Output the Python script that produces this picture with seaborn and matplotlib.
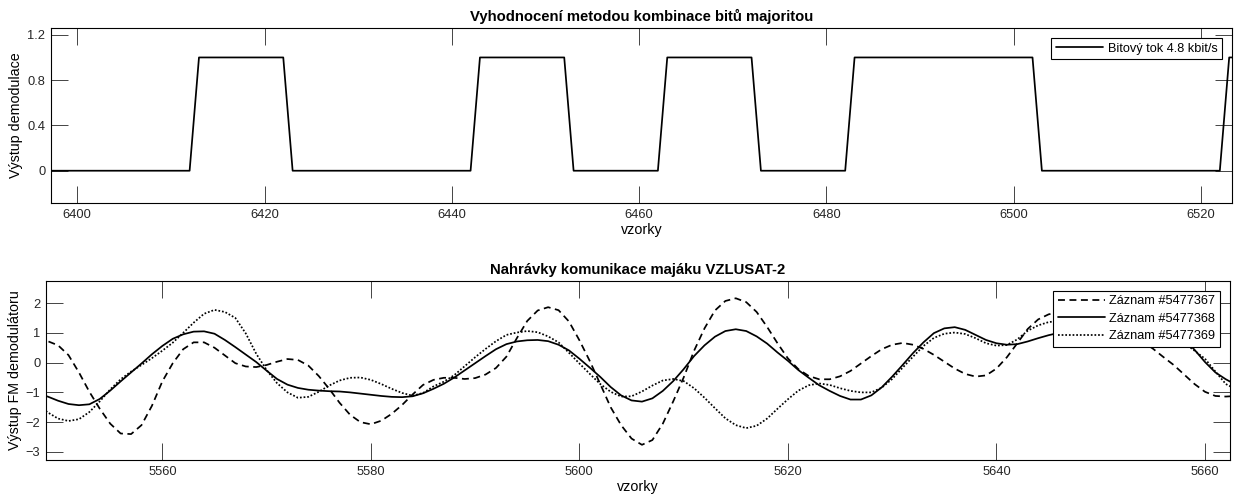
import numpy as np
import pandas as pd
import matplotlib
matplotlib.use("Agg")
import matplotlib.pyplot as plt
import seaborn as sns

# ---------------- data ----------------
# top panel: vertices of the demodulated bit stream
bit_x = [6397, 6412, 6413, 6422, 6423, 6442, 6443, 6452, 6453, 6462,
         6463, 6472, 6473, 6482, 6483, 6502, 6503, 6522, 6523, 6524]
bit_y = [0, 0, 1, 1, 0, 0, 1, 1, 0, 0,
         1, 1, 0, 0, 1, 1, 0, 0, 1, 1]
bit_label = "Bitový tok 4.8 kbit/s"

# bottom panel: FM demodulator output, samples 5548..5663
sample_start = 5548
rec_labels = ["Záznam #5477367", "Záznam #5477368", "Záznam #5477369"]
rec_367 = [0.78, 0.72, 0.58, 0.25, -0.33, -0.98, -1.55, -2.05, -2.38, -2.40,
           -2.10, -1.45, -0.63, -0.02, 0.45, 0.68, 0.68, 0.50, 0.24, -0.02,
           -0.13, -0.15, -0.08, 0.03, 0.12, 0.09, -0.10, -0.45, -0.88, -1.35,
           -1.75, -2.00, -2.07, -1.95, -1.72, -1.42, -1.07, -0.75, -0.58, -0.51,
           -0.51, -0.55, -0.52, -0.40, -0.18, 0.20, 0.82, 1.40, 1.75, 1.86,
           1.76, 1.38, 0.75, 0.05, -0.72, -1.50, -2.10, -2.55, -2.76, -2.60,
           -2.05, -1.30, -0.50, 0.40, 1.15, 1.75, 2.07, 2.16, 2.03, 1.70,
           1.20, 0.65, 0.14, -0.22, -0.45, -0.56, -0.56, -0.46, -0.28, -0.03,
           0.22, 0.45, 0.60, 0.66, 0.60, 0.46, 0.26, 0.03, -0.20, -0.38,
           -0.47, -0.43, -0.20, 0.18, 0.65, 1.13, 1.45, 1.62, 1.70, 1.70,
           1.65, 1.57, 1.45, 1.30, 1.12, 0.92, 0.70, 0.47, 0.19, -0.08,
           -0.40, -0.72, -0.98, -1.12, -1.14, -1.12]
rec_368 = [-1.05, -1.14, -1.28, -1.39, -1.43, -1.40, -1.22, -0.94, -0.63, -0.33,
           -0.03, 0.28, 0.56, 0.80, 0.95, 1.04, 1.05, 0.97, 0.76, 0.52,
           0.27, 0.02, -0.27, -0.55, -0.74, -0.85, -0.91, -0.94, -0.96, -0.97,
           -1.00, -1.04, -1.08, -1.12, -1.15, -1.16, -1.13, -1.03, -0.88, -0.71,
           -0.50, -0.26, -0.02, 0.22, 0.45, 0.62, 0.71, 0.75, 0.76, 0.72,
           0.60, 0.41, 0.13, -0.17, -0.48, -0.82, -1.10, -1.27, -1.31, -1.20,
           -0.95, -0.62, -0.22, 0.22, 0.58, 0.87, 1.06, 1.12, 1.06, 0.88,
           0.64, 0.34, 0.06, -0.25, -0.51, -0.76, -0.95, -1.12, -1.24, -1.24,
           -1.10, -0.83, -0.47, -0.08, 0.32, 0.68, 0.99, 1.15, 1.19, 1.10,
           0.93, 0.76, 0.65, 0.60, 0.62, 0.71, 0.82, 0.92, 1.00, 1.06,
           1.11, 1.16, 1.21, 1.26, 1.30, 1.32, 1.32, 1.28, 1.18, 1.02,
           0.80, 0.43, 0.02, -0.33, -0.56, -0.75]
rec_369 = [-1.40, -1.67, -1.88, -1.96, -1.90, -1.66, -1.30, -0.90, -0.56, -0.30,
           -0.08, 0.15, 0.40, 0.67, 1.00, 1.34, 1.64, 1.77, 1.70, 1.50,
           0.98, 0.30, -0.25, -0.69, -1.00, -1.18, -1.15, -0.98, -0.77, -0.60,
           -0.51, -0.50, -0.58, -0.72, -0.88, -1.02, -1.11, -1.02, -0.80, -0.64,
           -0.42, -0.12, 0.18, 0.46, 0.72, 0.93, 1.01, 1.06, 1.02, 0.88,
           0.68, 0.33, -0.03, -0.38, -0.72, -0.98, -1.14, -1.13, -0.97, -0.77,
           -0.60, -0.55, -0.62, -0.86, -1.18, -1.53, -1.87, -2.10, -2.20, -2.12,
           -1.88, -1.55, -1.23, -0.94, -0.76, -0.70, -0.75, -0.86, -0.95, -1.00,
           -1.00, -0.84, -0.55, -0.17, 0.20, 0.56, 0.83, 0.97, 1.01, 0.96,
           0.82, 0.65, 0.57, 0.59, 0.78, 1.07, 1.25, 1.36, 1.40, 1.42,
           1.42, 1.40, 1.38, 1.35, 1.32, 1.28, 1.18, 1.10, 1.00, 0.85,
           0.66, 0.40, 0.13, -0.30, -0.72, -0.90]

top_xticks = [6400, 6420, 6440, 6460, 6480, 6500, 6520]
top_yticks = [0, 0.4, 0.8, 1.2]
top_yticklabels = ["0", "0.4", "0.8", "1.2"]
bot_xticks = [5560, 5580, 5600, 5620, 5640, 5660]
bot_yticks = [-3, -2, -1, 0, 1, 2]

# ---------------- style ----------------
sns.set_theme(style="white")
plt.rcParams["font.family"] = ["Liberation Sans", "DejaVu Sans"]
plt.rcParams["axes.edgecolor"] = "black"
plt.rcParams["axes.linewidth"] = 0.8
plt.rcParams["text.color"] = "black"
plt.rcParams["axes.labelcolor"] = "black"

fig = plt.figure(figsize=(12.34, 4.99), dpi=100)
ax1 = fig.add_axes([51 / 1234, 1 - 203 / 499, 1181 / 1234, 175 / 499])
ax2 = fig.add_axes([46 / 1234, 1 - 460 / 499, 1184 / 1234, 179.3 / 499])

lw = 1.25
tick_fs = 9.3
label_fs = 10.3
title_fs = 10.7
legend_fs = 9.2

# top panel
top_df = pd.DataFrame({"x": bit_x, "y": bit_y})
sns.lineplot(data=top_df, x="x", y="y", ax=ax1, color="black", lw=lw,
             label=bit_label, sort=False, estimator=None)
ax1.set_xlim(6397.2, 6523.3)
ax1.set_ylim(-0.285, 1.26)
ax1.set_xticks(top_xticks)
ax1.set_yticks(top_yticks)
ax1.set_yticklabels(top_yticklabels)
ax1.set_xlabel("vzorky", fontsize=label_fs, labelpad=2)
ax1.set_ylabel("Výstup demodulace", fontsize=label_fs, labelpad=3)
ax1.set_title("Vyhodnocení metodou kombinace bitů majoritou",
              fontsize=title_fs, fontweight="bold", pad=5)

# bottom panel
samples = np.arange(sample_start, sample_start + len(rec_367))
dash_styles = [(4, 2.6), None, (1, 1.1)]
for vals, lab, dsh in zip([rec_367, rec_368, rec_369], rec_labels, dash_styles):
    df = pd.DataFrame({"sample": samples, "value": vals})
    sns.lineplot(data=df, x="sample", y="value", ax=ax2, color="black", lw=lw,
                 label=lab, estimator=None)
    if dsh is not None:
        ax2.lines[-1].set_dashes(dsh)
ax2.set_xlim(5548.84, 5662.4)
ax2.set_ylim(-3.27, 2.75)
ax2.set_xticks(bot_xticks)
ax2.set_yticks(bot_yticks)
ax2.set_xlabel("vzorky", fontsize=label_fs, labelpad=2)
ax2.set_ylabel("Výstup FM demodulátoru", fontsize=label_fs, labelpad=3)
ax2.set_title("Nahrávky komunikace majáku VZLUSAT-2",
              fontsize=title_fs, fontweight="bold", pad=5)

for ax in (ax1, ax2):
    ax.tick_params(direction="in", length=12, width=0.6, color="#262626",
                   labelcolor="#262626", bottom=True, left=True,
                   top=True, right=True, labelsize=tick_fs, pad=4)
    for s in ax.spines.values():
        s.set_visible(True)
        s.set_color("black")
        s.set_linewidth(0.8)
    leg = ax.legend(loc="upper right", fontsize=legend_fs, frameon=True,
                    fancybox=False, edgecolor="black", framealpha=1,
                    handlelength=3.7, handletextpad=0.35, borderpad=0.35,
                    borderaxespad=0.8, labelspacing=0.42)
    leg.get_frame().set_linewidth(0.8)

fig.savefig("out.png", dpi=100, facecolor="white")
